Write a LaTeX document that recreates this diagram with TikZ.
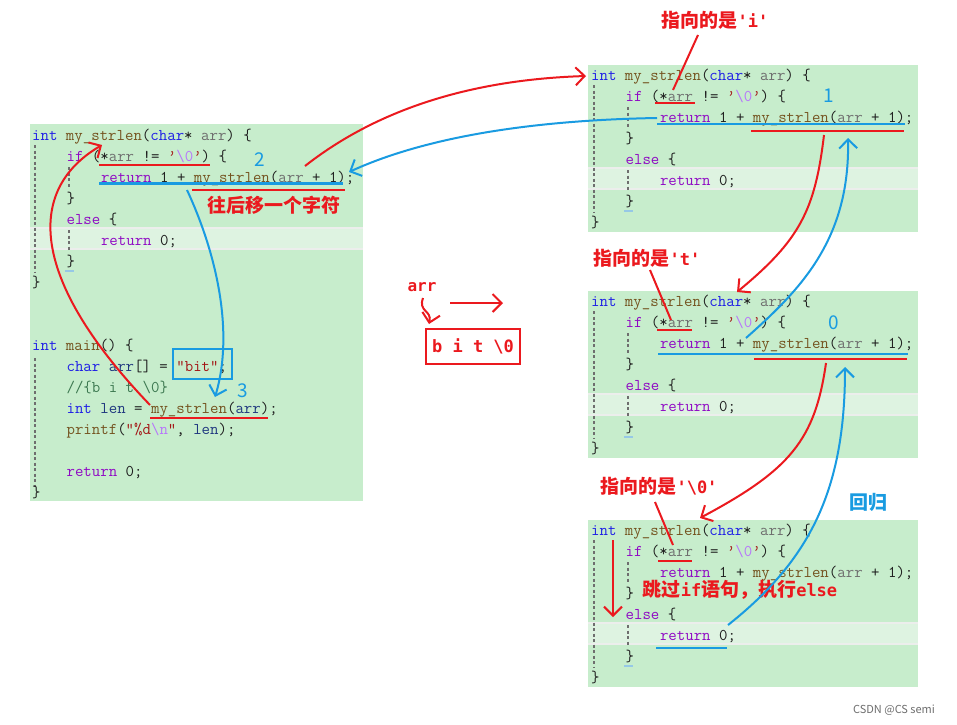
\documentclass[tikz,border=0pt]{standalone}
\usepackage{fontspec}
\usetikzlibrary{arrows.meta}
\newfontfamily\cjk{Noto Sans CJK SC}
\newfontfamily\hmono{DejaVu Sans Mono}
\definecolor{codebg}{RGB}{199,237,204}
\definecolor{bandbg}{RGB}{222,243,225}
\definecolor{bandln}{RGB}{236,238,236}
\definecolor{kwblue}{RGB}{30,30,230}
\definecolor{ctlpurple}{RGB}{143,8,196}
\definecolor{fnbrown}{RGB}{116,83,31}
\definecolor{pargray}{RGB}{110,110,110}
\definecolor{varnavy}{RGB}{31,55,127}
\definecolor{strred}{RGB}{163,21,21}
\definecolor{escpur}{RGB}{183,118,251}
\definecolor{comgreen}{RGB}{60,120,80}
\definecolor{plain}{RGB}{30,30,30}
\definecolor{annred}{RGB}{235,25,30}
\definecolor{annblue}{RGB}{25,155,225}
\definecolor{guide}{RGB}{110,110,110}
\definecolor{caret}{RGB}{150,200,230}
\newcommand\ckw[1]{\textcolor{kwblue}{#1}}
\newcommand\cctl[1]{\textcolor{ctlpurple}{#1}}
\newcommand\cfn[1]{\textcolor{fnbrown}{#1}}
\newcommand\cpar[1]{\textcolor{pargray}{#1}}
\newcommand\cvar[1]{\textcolor{varnavy}{#1}}
\newcommand\cstr[1]{\textcolor{strred}{#1}}
\newcommand\cesc[1]{\textcolor{escpur}{#1}}
\newcommand\ccom[1]{\textcolor{comgreen}{#1}}
\newcommand\hlat[1]{{\hmono\bfseries\fontsize{17}{18}\selectfont #1}}

\begin{document}
\begin{tikzpicture}[x=1pt,y=-1pt]
	\tikzstyle{code}=[anchor=base west,inner sep=0pt,text=plain,font=\ttfamily\fontsize{16.4}{20}\selectfont]
	\tikzstyle{note}=[inner sep=0pt,font=\cjk\bfseries\fontsize{19}{22}\selectfont]
	\tikzstyle{num}=[inner sep=0pt,text=annblue,font=\cjk\fontsize{19}{22}\selectfont]
	\tikzstyle{anno}=[line width=2.4pt]
	\tikzstyle{hint}=[-{Straight Barb[length=9pt,width=18pt]},line width=2pt]
	\tikzstyle{guideln}=[guide,dash pattern=on 3pt off 2.5pt,line width=1.3pt]
	\fill[white] (0,0) rectangle (957,724);
	\useasboundingbox (0,0) rectangle (957,724);
	
	% editor backgrounds
	\fill[codebg] (30,124) rectangle (363,501);
	\foreach \b/\y in {tr/80,mr/306,br/535}
	\fill[codebg] (588,\y-15) rectangle (918,\y+152);
	\foreach \x/\xe/\y in {30/363/140,588/918/80,588/918/306,588/918/535}{
		\fill[bandbg] (\x,\y+88) rectangle (\xe,\y+109);
		\draw[bandln,line width=1.6pt] (\x,\y+88) -- (\xe,\y+88) (\x,\y+109) -- (\xe,\y+109);
	}
	
	% my_strlen, four times
	\foreach \b/\x/\y in {l/32/140,tr/591/80,mr/591/306,br/591/535}{
		\draw[guideln] (\x+3,\y+5) -- (\x+3,\y+132);
		\draw[guideln] (\x+37,\y+27) -- (\x+37,\y+47) (\x+37,\y+90) -- (\x+37,\y+110);
		\draw[caret,line width=2pt] (\x+33,\y+131) -- (\x+42,\y+131);
		\node[code](\b-1) at (\x,\y) {\ckw{int} \cfn{my\_strlen}(\ckw{char}* \cpar{arr}) \{};
		\node[code](\b-2) at (\x+34.4,\y+21) {\cctl{if} (*\cpar{arr} != \cstr{’}\cesc{\textbackslash0}\cstr{’}) \{};
		\node[code](\b-3) at (\x+68.8,\y+42) {\cctl{return} 1 + \cfn{my\_strlen}(\cpar{arr} + 1);};
		\node[code](\b-4) at (\x+34.4,\y+63) {\}};
		\node[code](\b-5) at (\x+34.4,\y+84) {\cctl{else} \{};
		\node[code](\b-6) at (\x+68.8,\y+105) {\cctl{return} 0;};
		\node[code](\b-7) at (\x+34.4,\y+126) {\}};
		\node[code](\b-8) at (\x,\y+147) {\}};
	}
	
	% main
	\draw[guideln] (35,358) -- (35,487);
	\node[code](m-1) at (32,350) {\ckw{int} \cfn{main}() \{};
	\node[code](m-2) at (66.4,371) {\ckw{char} \cvar{arr}[] = \cstr{”bit”};};
	\node[code](m-3) at (66.4,392) {\ccom{//\{b i t \textbackslash0\}}};
	\node[code](m-4) at (66.4,413) {\ckw{int} \cvar{len} = \cfn{my\_strlen}(\cvar{arr});};
	\node[code](m-5) at (66.4,434) {\cfn{printf}(\cstr{”\%d}\cesc{\textbackslash n}\cstr{”}, \cvar{len});};
	\node[code](m-6) at (66.4,476) {\cctl{return} 0;};
	\node[code](m-7) at (32,497) {\}};
	
	% underlines
	\draw[anno,annred] (99,165) -- (210,165);
	\draw[anno,annblue] (99,183.5) -- (343,183.5);
	\draw[anno,annred] (192,190) -- (345,190);
	\draw[anno,annred] (150,418) -- (268,418);
	\draw[annblue,line width=2.2pt] (173,349) rectangle (232,379);
	\draw[anno,annred] (655,103) -- (695,103);
	\draw[anno,annblue] (657,124) -- (905,124);
	\draw[anno,annred] (751,131) -- (904,131);
	\draw[anno,annred] (657,330) -- (692,330);
	\draw[anno,annblue] (658,354) -- (908,354);
	\draw[anno,annred] (754,359) -- (907,359);
	\draw[anno,annred] (658,561) -- (692,561);
	\draw[anno,annblue] (656,648) -- (727,648);
	
	% labels
	\node[note,text=annred](shift) at (274,205) {往后移一个字符};
	\node[num](n-2) at (260,160) {2};
	\node[num](n-3) at (243,391) {3};
	\node[num](n-1) at (829,96) {1};
	\node[num](n-0) at (834,323) {0};
	\node[note,text=annred](pt-i) at (715,20) {指向的是\hlat{'i'}};
	\node[note,text=annred](pt-t) at (647,258) {指向的是\hlat{'t'}};
	\node[note,text=annred](pt-0) at (659,486) {指向的是\hlat{'\textbackslash0'}};
	\node[note,text=annblue](back) at (868,502) {回归};
	\node[note,text=annred](skip) at (740,590) {跳过\hlat{if}语句，执行\hlat{else}};
	\node[inner sep=0pt,text=annred,font=\hmono\bfseries\fontsize{16}{18}\selectfont](arr-lbl) at (422,287) {arr};
	\node[draw=annred,line width=2pt,minimum width=94pt,minimum height=35pt,inner sep=0pt,text=annred,font=\hmono\bfseries\fontsize{17}{18}\selectfont](str) at (473,346.5) {b i t \textbackslash0};
	\node[inner sep=0pt,text=guide,font=\cjk\fontsize{11}{12}\selectfont](wm) at (894,710) {CSDN @CS semi};
	
	% connector ends
	\coordinate (l-call) at (305,166);
	\coordinate (tr-entry) at (586,76);
	\coordinate (tr-ret) at (657,118);
	\coordinate (l-back) at (349,172);
	\coordinate (l-ret) at (187,190);
	\coordinate (m-res) at (215,397);
	\coordinate (m-call) at (150,405);
	\coordinate (l-entry) at (102,145);
	\coordinate (tr-call) at (824,135);
	\coordinate (mr-entry) at (737,292);
	\coordinate (mr-ret) at (746,338);
	\coordinate (tr-back) at (848,138);
	\coordinate (mr-call) at (826,363);
	\coordinate (br-entry) at (700,518);
	\coordinate (br-ret) at (728,625);
	\coordinate (mr-back) at (845,367);
	
	% calls and returns
	\draw[hint,annred] (m-call) .. controls (30,280) and (25,190) .. (l-entry);
	\draw[hint,annred] (l-call) .. controls (370,115) and (460,80) .. (tr-entry);
	\draw[hint,annred] (tr-call) .. controls (815,210) and (800,240) .. (mr-entry);
	\draw[hint,annred] (mr-call) .. controls (815,440) and (790,470) .. (br-entry);
	\draw[hint,annblue] (br-ret) .. controls (810,560) and (845,490) .. (mr-back);
	\draw[hint,annblue] (mr-ret) .. controls (800,290) and (850,240) .. (tr-back);
	\draw[hint,annblue] (tr-ret) .. controls (540,120) and (430,135) .. (l-back);
	\draw[hint,annblue] (l-ret) .. controls (215,250) and (235,330) .. (m-res);
	
	% pointers
	\coordinate (arr-a) at (423,298);
	\coordinate (arr-b) at (429,324);
	\coordinate (mv-a) at (450,303);
	\coordinate (mv-b) at (503,303);
	\coordinate (sk-a) at (613,540);
	\coordinate (sk-b) at (613,617);
	\draw[hint,annred] (arr-a) .. controls (418,312) and (432,310) .. (arr-b);
	\draw[hint,annred] (mv-a) -- (mv-b);
	\draw[hint,annred] (sk-a) -- (sk-b);
	\draw[annred,line width=2pt] (698,35) -- (673,90);
	\draw[annred,line width=2pt] (650,270) -- (671,320);
	\draw[annred,line width=2pt] (655,502) -- (673,545);
\end{tikzpicture}
\end{document}
